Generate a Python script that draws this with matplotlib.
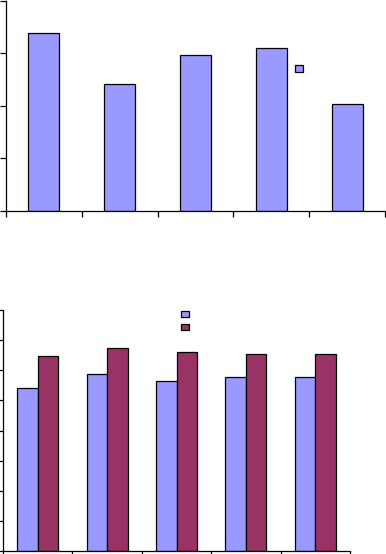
import matplotlib
matplotlib.use("Agg")
import matplotlib.pyplot as plt
import numpy as np
from matplotlib.patches import Patch

# values (axes carry no labels)
categories = ["1", "2", "3", "4", "5"]
top_values = [3.39, 2.41, 2.96, 3.09, 2.03]
series_a = [5.41, 5.88, 5.65, 5.78, 5.78]
series_b = [6.47, 6.74, 6.61, 6.54, 6.54]

blue = "#9999FF"
maroon = "#993366"

W, H = 386, 554
fig = plt.figure(figsize=(W / 100, H / 100), dpi=100)


def style_axes(ax, ymax):
    ax.set_xlim(0, len(categories))
    ax.set_ylim(0, ymax)
    ax.set_xticks(np.arange(len(categories) + 1))
    ax.set_yticks(np.arange(ymax + 1))
    ax.set_xticklabels([])
    ax.set_yticklabels([])
    for s in ["top", "right"]:
        ax.spines[s].set_visible(False)
    for s in ["left", "bottom"]:
        ax.spines[s].set_linewidth(0.9)
        ax.spines[s].set_color("black")
    ax.tick_params(direction="out", length=4, width=0.9, color="black")
    ax.patch.set_alpha(0)


# top chart
ax1 = fig.add_axes([6 / W, (H - 211) / H, (385 - 6) / W, 210.5 / H])
x = np.arange(len(categories)) + 0.5
ax1.bar(x, top_values, width=0.41, color=blue, edgecolor="black", linewidth=0.9)
style_axes(ax1, 4)
fig.legend([Patch(facecolor=blue, edgecolor="black", linewidth=0.9)], [" "],
           loc="upper left", bbox_to_anchor=(295 / W, (H - 64) / H),
           frameon=False, borderpad=0, borderaxespad=0, fontsize=6,
           handlelength=1.0, handleheight=0.9, handletextpad=0)

# bottom chart
ax2 = fig.add_axes([3 / W, 3 / H, (350 - 3) / W, (551 - 310) / H])
w = 0.295
ax2.bar(x - w / 2, series_a, width=w, color=blue, edgecolor="black", linewidth=0.9)
ax2.bar(x + w / 2, series_b, width=w, color=maroon, edgecolor="black", linewidth=0.9)
style_axes(ax2, 8)
fig.legend([Patch(facecolor=blue, edgecolor="black", linewidth=0.9),
            Patch(facecolor=maroon, edgecolor="black", linewidth=0.9)], [" ", " "],
           loc="upper left", bbox_to_anchor=(181 / W, (H - 310) / H),
           frameon=False, borderpad=0, borderaxespad=0, fontsize=6,
           handlelength=0.9, handleheight=0.8, handletextpad=0, labelspacing=0.5)

fig.savefig("out.png", dpi=100)
